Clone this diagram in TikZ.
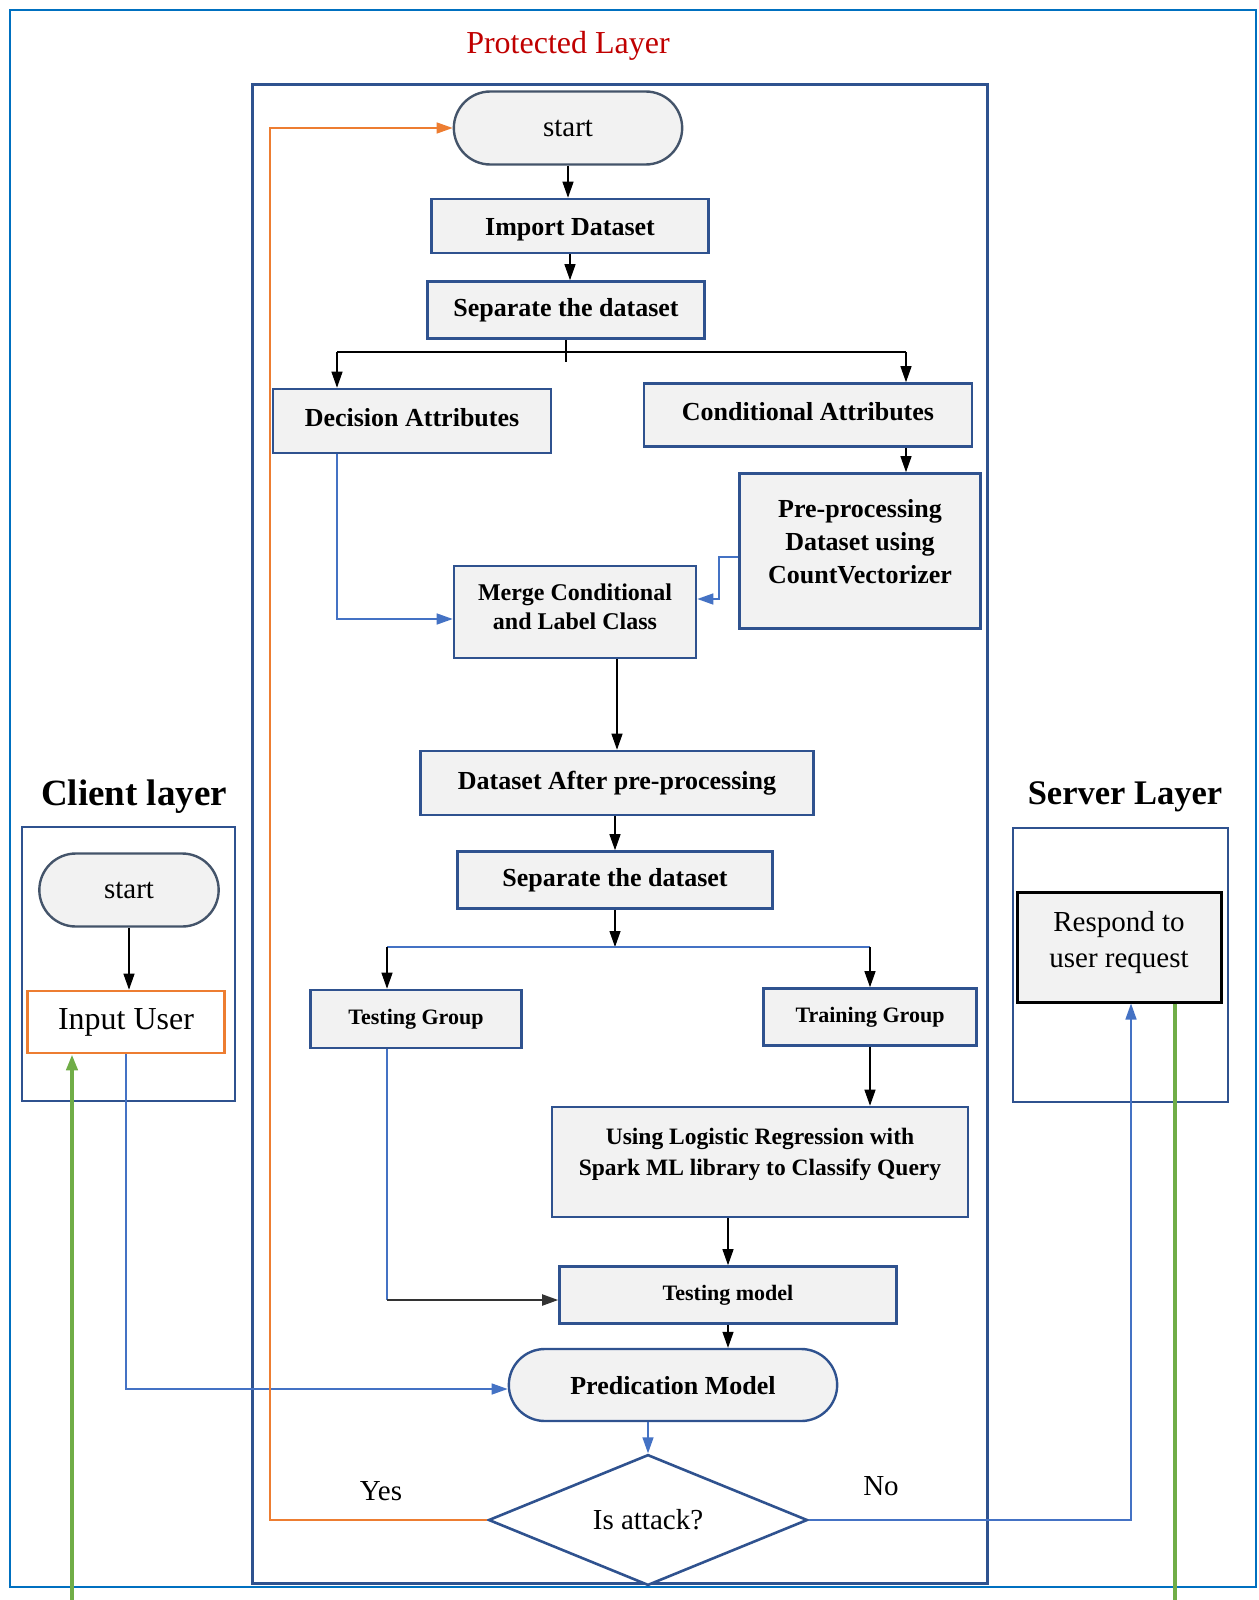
\documentclass[tikz,border=0pt]{standalone}
\usepackage{fontspec}
\setmainfont{Liberation Serif}
\usepackage{tikz}
\usetikzlibrary{arrows.meta,shapes.geometric,shapes.misc}
\definecolor{frameblue}{RGB}{0,112,192}
\definecolor{boxblue}{RGB}{47,82,143}
\definecolor{slate}{RGB}{68,84,106}
\definecolor{boxgray}{RGB}{242,242,242}
\definecolor{linkblue}{RGB}{68,114,196}
\definecolor{accent}{RGB}{237,125,49}
\definecolor{leaf}{RGB}{112,173,71}
\definecolor{alarm}{RGB}{192,0,0}
\newcommand{\setfs}[2]{\fontsize{#1}{#2}\selectfont}

\begin{document}
\begin{tikzpicture}[x=1pt,y=-1pt,
  process/.style={rectangle,draw=boxblue,fill=boxgray,line width=2.6pt,inner sep=2pt,font=\setfs{26}{33}\bfseries},
  small process/.style={process,font=\setfs{22}{28}\bfseries},
  terminal/.style={rounded rectangle,draw=slate,fill=boxgray,line width=2.4pt,text depth=0pt,font=\setfs{29}{35}},
  check/.style={diamond,draw=boxblue,fill=white,line width=2.6pt,inner sep=0pt,font=\setfs{29}{35}},
  layer/.style={draw=boxblue,line width=2.6pt},
  title/.style={font=\setfs{37}{44}\bfseries},
  answer/.style={font=\setfs{29}{35}},
  flow/.style={-{Triangle[length=16pt,width=11pt]},line width=1.2pt},
  blue flow/.style={flow,draw=linkblue,line width=1.5pt},
  blue line/.style={draw=linkblue,line width=1.5pt},
  align=center]

  \useasboundingbox (0,0) rectangle (1258,1600);
  % layers
  \draw[frameblue,line width=2pt] (10,10) rectangle (1256,1587);
  \draw[layer,line width=3pt] (252,85) rectangle (987,1583);
  \draw[layer] (22,827) rectangle (235,1101);
  \draw[layer] (1013,828) rectangle (1228,1102);

  \node[font=\setfs{32}{38},text=alarm] (protected title) at (568,46) {Protected Layer};
  \node[title] (client title) at (134,797) {Client layer};
  \node[title,font=\setfs{34.5}{42}\bfseries] (server title) at (1125,797) {Server Layer};

  % protected layer
  \node[terminal,minimum width=235pt,minimum height=73pt] (start) at (568,128) {start};
  \node[process,minimum width=277pt,minimum height=54pt,text height=24pt] (import dataset) at (570,226) {Import Dataset};
  \node[process,minimum width=277pt,minimum height=57pt] (separate dataset) at (566,310) {Separate the dataset};
  \node[process,minimum width=278pt,minimum height=64pt,text depth=8pt] (decision attributes) at (412,421) {Decision Attributes};
  \node[process,minimum width=328pt,minimum height=63pt,text depth=8pt] (conditional attributes) at (808,415) {Conditional Attributes};
  \node[process,minimum width=241pt,minimum height=155pt,text depth=20pt] (preprocessing) at (860,551) {Pre-processing\\Dataset using\\CountVectorizer};
  \node[process,minimum width=242pt,minimum height=92pt,text depth=10pt,font=\setfs{24}{29}\bfseries] (merge) at (575,612) {Merge Conditional\\and Label Class};
  \node[process,minimum width=393pt,minimum height=64pt] (dataset after) at (617,783) {Dataset After pre-processing};
  \node[process,minimum width=315pt,minimum height=57pt] (separate again) at (615,880) {Separate the dataset};
  \node[small process,minimum width=211pt,minimum height=58pt] (testing group) at (416,1019) {Testing Group};
  \node[small process,minimum width=213pt,minimum height=57pt] (training group) at (870,1017) {Training Group};
  \node[process,minimum width=416pt,minimum height=110pt,text depth=21pt,font=\setfs{23.5}{31}\bfseries] (logistic) at (760,1162) {Using Logistic Regression with\\Spark ML library to Classify Query};
  \node[small process,minimum width=337pt,minimum height=57pt] (testing model) at (728,1295) {Testing model};
  \node[terminal,draw=boxblue,minimum width=335pt,minimum height=72pt,font=\setfs{26}{31}\bfseries] (predication) at (673,1385) {Predication Model};
  \node[check,minimum width=319pt,minimum height=125pt] (is attack) at (648,1520) {Is attack?};
  \node[answer] (yes) at (381,1491) {Yes};
  \node[answer] (no) at (881,1486) {No};

  % client and server layers
  \node[terminal,minimum width=186pt,minimum height=73pt] (client start) at (129,890) {start};
  \node[draw=accent,fill=white,line width=2.6pt,minimum width=197pt,minimum height=62pt,font=\setfs{32}{38}] (input user) at (126,1022) {Input User};
  \node[draw=black,fill=boxgray,line width=3pt,minimum width=204pt,minimum height=110pt,text depth=16pt,font=\setfs{29}{36}] (respond) at (1119,947) {Respond to\\user request};

  \coordinate (split left) at (337,352);
  \coordinate (split right) at (906,352);
  \coordinate (group left) at (387,947);
  \coordinate (group right) at (870,947);
  \coordinate (test turn) at (387,1300);
  \coordinate (yes turn) at (270,1520);
  \coordinate (green in) at (72,1600);
  \coordinate (green out) at (1175,1600);

  \draw[flow] (start.south) -- (start.south |- import dataset.north);
  \draw[flow] (import dataset.south) -- (import dataset.south |- separate dataset.north);
  \draw[line width=1.2pt] (separate dataset.south) -- ++(0,22);
  \draw[line width=1.2pt] (split left) -- (split right);
  \draw[flow] (split left) -- (split left |- decision attributes.north);
  \draw[flow] (split right) -- (split right |- conditional attributes.north);
  \draw[flow] (split right |- conditional attributes.south) -- (split right |- preprocessing.north);
  \draw[blue flow] (decision attributes.south -| split left) |- ([yshift=-7pt]merge.west);
  \draw[blue flow] ([yshift=-6pt]preprocessing.west) -- ++(-19,0) |- ([yshift=13pt]merge.east);
  \draw[flow] (merge.south -| dataset after.north) -- (dataset after.north);
  \draw[flow] (dataset after.south -| separate again.north) -- (separate again.north);
  \draw[flow] (separate again.south) -- (separate again.south |- group left);
  \draw[blue line] (group left) -- (group right);
  \draw[flow] (group left) -- (group left |- testing group.north);
  \draw[flow] (group right) -- (group right |- training group.north);
  \draw[flow] (training group.south) -- (training group.south |- logistic.north);
  \draw[flow] (logistic.south -| testing model.north) -- (testing model.north);
  \draw[blue line] (testing group.south -| test turn) -- (test turn);
  \draw[flow,line width=2pt,draw=black!80] (test turn) -- (test turn -| testing model.west);
  \draw[flow] (testing model.south) -- (testing model.south |- predication.north);
  \draw[blue flow] (predication.south -| is attack.north) -- (is attack.north);
  \draw[blue flow] (input user.south) |- ([yshift=-4pt]predication.west);
  \draw[flow,draw=accent,line width=1.5pt] (is attack.west) -- (yes turn) |- (start.west);
  \draw[blue flow] (is attack.east) -| ([xshift=12pt]respond.south);
  \draw[flow] (client start.south) -- (client start.south |- input user.north);
  \draw[flow,draw=leaf,line width=4pt] (green in) -- (green in |- input user.south);
  \draw[draw=leaf,line width=4pt] (respond.south -| green out) -- (green out);
\end{tikzpicture}
\end{document}
